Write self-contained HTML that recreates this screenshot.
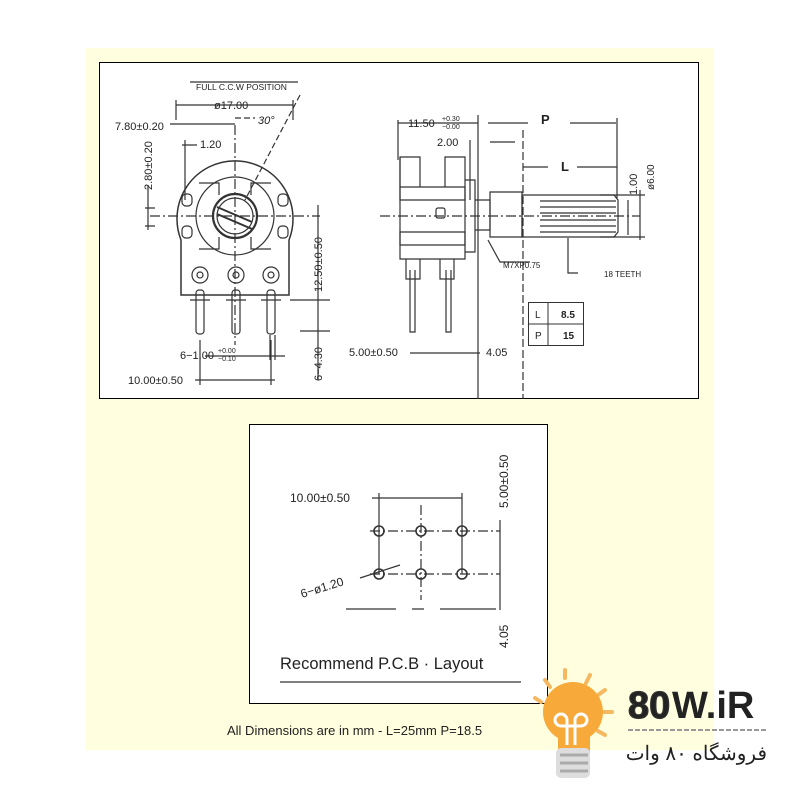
<!DOCTYPE html>
<html><head><meta charset="utf-8"><style>
html,body{margin:0;padding:0;background:#fff;}
svg{display:block;}
text{font-family:"Liberation Sans",sans-serif;fill:#222;}
</style></head><body>
<svg width="800" height="800" viewBox="0 0 800 800" xmlns="http://www.w3.org/2000/svg">
<rect x="86" y="48" width="628" height="702" fill="#ffffe0"/>
<!-- top box -->
<rect x="99.5" y="62.5" width="599" height="336" fill="#fff" stroke="#000" stroke-width="1"/>
<g stroke="#333" fill="none" stroke-width="1.2">
  <!-- front view -->
  <line x1="150" y1="216" x2="320" y2="216" stroke-dasharray="10,3,2,3"/>
  <line x1="235" y1="125" x2="235" y2="345" stroke-dasharray="10,3,2,3"/>
  <path d="M181 295 L181 240 A58 58 0 1 1 289 240 L289 295 Z" stroke-width="1.5"/>
  <circle cx="235" cy="216" r="39"/>
  <circle cx="235" cy="216" r="22" stroke-width="2.2"/>
  <circle cx="235" cy="216" r="18"/>
  <line x1="217" y1="207" x2="252" y2="222" stroke-width="2"/>
  <line x1="217" y1="214" x2="252" y2="229" stroke-width="2"/>
  <path d="M199 183 h20 v12 M271 183 h-20 v12 M199 249 h20 v-12 M271 249 h-20 v-12"/>
  <rect x="182" y="194" width="10" height="12" rx="4"/><rect x="278" y="194" width="10" height="12" rx="4"/>
  <rect x="182" y="226" width="10" height="12" rx="4"/><rect x="278" y="226" width="10" height="12" rx="4"/>
  <circle cx="200" cy="275" r="8"/><circle cx="200" cy="275" r="3"/>
  <circle cx="236" cy="275" r="8"/><circle cx="236" cy="275" r="3"/>
  <circle cx="271" cy="275" r="8"/><circle cx="271" cy="275" r="3"/>
  <path d="M190 300 h20 M226 300 h20 M261 300 h20"/>
  <rect x="196" y="290" width="8" height="44" rx="3"/>
  <rect x="232" y="290" width="8" height="44" rx="3"/>
  <rect x="267" y="290" width="8" height="44" rx="3"/>
  <!-- dims -->
  <path d="M176 100 v20 M293 100 v20 M176 105 h117"/>
  <path d="M170 124 h65 M182 145 h15 M185 140 v60"/>
  <path d="M148 185 v45 M145 208 h10 M145 226 h10"/>
  <path d="M318 205 v175 M290 300 h40 M300 331 h30"/>
  <path d="M235 118 h20 M300 95 L245 200" stroke-dasharray="6,3"/>
  <path d="M190 82 h108"/>
  <path d="M205 356 h80 M270 335 v25 M275 335 v25"/>
  <path d="M195 380 h80 M200 340 v45 M271 340 v45"/>
  <!-- side view -->
  <line x1="380" y1="216" x2="640" y2="216" stroke-dasharray="10,3,2,3"/>
  <line x1="478" y1="115" x2="478" y2="399"/>
  <line x1="523" y1="130" x2="523" y2="399" stroke-dasharray="8,3"/>
  <path d="M400 157 h20 v30 h-20 Z M400 187 h65 v13 h-65 Z M400 232 h65 v13 h-65 Z"/>
  <path d="M400 157 v102 h65 v-102 h-20 v30"/>
  <path d="M465 180 h10 v72 h-10"/>
  <path d="M475 200 h15 v30 h-15"/>
  <rect x="436" y="208" width="9" height="10" rx="2"/>
  <path d="M490 192 h32 v45 h-32 Z"/>
  <path d="M522 195 h92 l4 5 v32 l-4 5 h-92 Z"/>
  <path d="M540 201 h76 M540 207 h76 M540 213 h76 M540 220 h76 M540 226 h76 M540 232 h76"/>
  <path d="M406 259 v20 h14 v-20 M440 259 v20 h14 v-20"/>
  <path d="M410 270 v62 h5 v-62 M446 270 v62 h5 v-62"/>
  <path d="M398 120 v40 M398 123 h80 M488 123 h40 M570 123 h46 M617 118 v80"/>
  <path d="M470 140 v60 M490 142 h25"/>
  <path d="M523 167 h25 M577 167 h40"/>
  <path d="M600 195 h45 M600 237 h45 M640 190 v50 M628 200 v35"/>
  <path d="M488 240 L500 262 h30"/>
  <path d="M568 238 v35 h10"/>
  <path d="M410 353 h70"/>
</g>
<g font-size="11">
  <text x="196" y="90" font-size="8.5">FULL C.C.W POSITION</text>
  <text x="214" y="109">ø17.00</text>
  <text x="258" y="124" font-style="italic">30°</text>
  <text x="115" y="130">7.80±0.20</text>
  <text x="200" y="148">1.20</text>
  <text transform="translate(152,190) rotate(-90)">2.80±0.20</text>
  <text transform="translate(322,292) rotate(-90)">12.50±0.50</text>
  <text transform="translate(322,381) rotate(-90)">6−4.30</text>
  <text x="180" y="359">6−1.00</text><text x="218" y="353" font-size="7">+0.00</text><text x="218" y="361" font-size="7">−0.10</text>
  <text x="128" y="384">10.00±0.50</text>
  <text x="408" y="127">11.50</text><text x="442" y="121" font-size="7">+0.30</text><text x="442" y="129" font-size="7">−0.00</text>
  <text x="541" y="124" font-family="Liberation Serif" font-size="13" font-weight="bold">P</text>
  <text x="437" y="146">2.00</text>
  <text x="561" y="171" font-family="Liberation Serif" font-size="13" font-weight="bold">L</text>
  <text transform="translate(637,195) rotate(-90)">1.00</text>
  <text transform="translate(654,190) rotate(-90)" font-size="10">ø6.00</text>
  <text x="503" y="268" font-size="8">M7XP0.75</text>
  <text x="604" y="277" font-size="8">18 TEETH</text>
  <text x="349" y="356">5.00±0.50</text>
  <text x="486" y="356">4.05</text>
</g>
<g stroke="#333" fill="none"><rect x="528.5" y="302.5" width="55" height="43"/><line x1="548" y1="302" x2="548" y2="346"/><line x1="528" y1="324" x2="584" y2="324"/></g>
<text x="535" y="318" font-size="10">L</text><text x="561" y="318" font-size="10" font-weight="bold">8.5</text>
<text x="535" y="339" font-size="10">P</text><text x="563" y="339" font-size="10" font-weight="bold">15</text>
<!-- bottom box -->
<rect x="249.5" y="424.5" width="298" height="279" fill="#fff" stroke="#000"/>
<g stroke="#333" fill="none" stroke-width="1.2">
  <path d="M370 531 h130 M370 574 h130" stroke-dasharray="10,3,2,3"/>
  <path d="M421 505 v95" stroke-dasharray="10,3,2,3"/>
  <path d="M379 493 v81 M462 493 v81 M372 498 h90"/>
  <path d="M346 609 h50 M412 609 h12 M440 609 h56"/>
  <path d="M500 520 v90"/>
  <path d="M360 578 L400 565"/>
  <circle cx="379" cy="531" r="5" stroke-width="1.6"/><circle cx="421" cy="531" r="5" stroke-width="1.6"/><circle cx="462" cy="531" r="5" stroke-width="1.6"/>
  <circle cx="379" cy="574" r="5" stroke-width="1.6"/><circle cx="421" cy="574" r="5" stroke-width="1.6"/><circle cx="462" cy="574" r="5" stroke-width="1.6"/>
  <line x1="280" y1="682" x2="521" y2="682" stroke-width="1.3"/>
</g>
<text x="290" y="502" font-size="12">10.00±0.50</text>
<text transform="translate(508,508) rotate(-90)" font-size="12">5.00±0.50</text>
<text transform="translate(508,648) rotate(-90)" font-size="12">4.05</text>
<text transform="translate(302,598) rotate(-17)" font-size="12">6−ø1.20</text>
<text x="280" y="669" font-size="16.5">Recommend  P.C.B · Layout</text>
<text x="227" y="735" font-size="13" fill="#444">All Dimensions are in mm - L=25mm P=18.5</text>
<!-- logo -->
<g stroke="#f5b860" stroke-width="4" stroke-linecap="round">
  <line x1="565" y1="670" x2="565" y2="678"/><line x1="545" y1="680" x2="550" y2="687"/><line x1="590" y1="675" x2="586" y2="683"/>
  <line x1="605" y1="690" x2="598" y2="695"/><line x1="612" y1="712" x2="604" y2="712"/><line x1="535" y1="698" x2="541" y2="702"/>
  <line x1="605" y1="735" x2="598" y2="731"/>
</g>
<circle cx="573" cy="712" r="30" fill="#f7a93a"/>
<path d="M558 735 h32 v20 h-32 Z" fill="#f7a93a"/>
<rect x="556" y="748" width="34" height="30" rx="5" fill="#ddd"/>
<path d="M560 755 h28 M560 763 h28 M560 771 h28" stroke="#aaa" stroke-width="3"/>
<path d="M567 745 v-25 a6 6 0 1 0 -6 6 h20 a6 6 0 1 0 -6 -6 v25" stroke="#fff" stroke-width="3" fill="none"/>
<text x="628" y="718" font-size="38" font-weight="bold" fill="#f7a93a" stroke="#333" stroke-width="1.2">80</text>
<text x="672" y="718" font-size="38" font-weight="bold" fill="#333">W.iR</text>
<line x1="628" y1="730" x2="767" y2="730" stroke="#999" stroke-width="2" stroke-dasharray="5,2"/>
<text x="767" y="760" font-size="20" text-anchor="end" fill="#555" font-family="'DejaVu Sans',sans-serif">فروشگاه ۸۰ وات</text>
</svg>
</body></html>
